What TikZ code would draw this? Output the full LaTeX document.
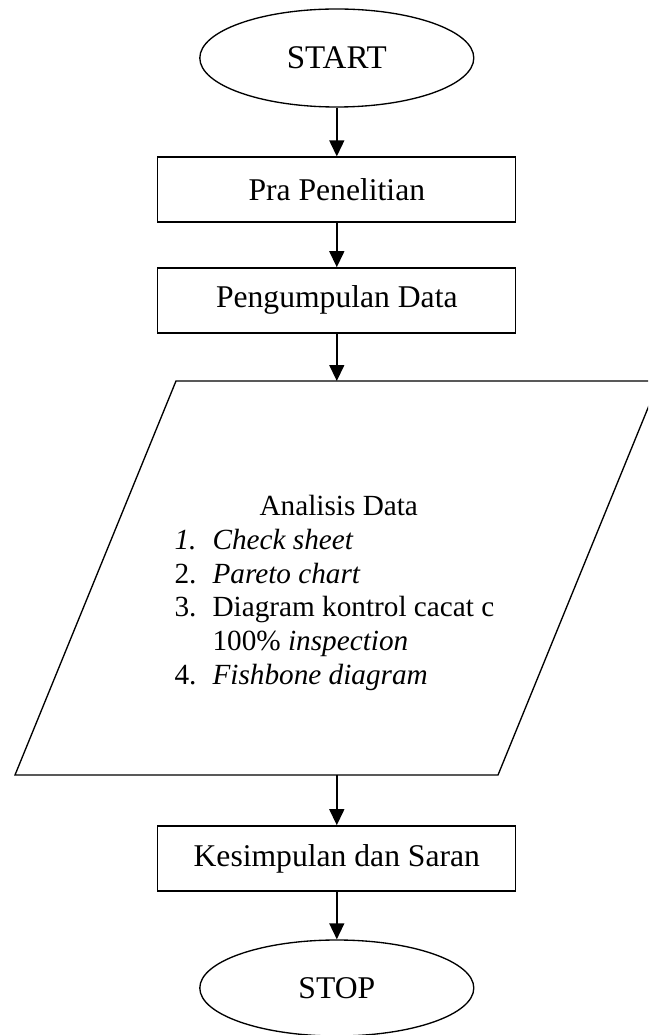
\documentclass[tikz,border=0pt]{standalone}
\usepackage{fontspec}
\setmainfont{Liberation Serif}
\usetikzlibrary{arrows.meta,positioning,shapes.geometric}

\begin{document}
\begin{tikzpicture}[
    terminal/.style={ellipse, draw=black, line width=0.95pt,
                 minimum width=6.85cm, minimum height=2.45cm,
                 font=\fontsize{22.5}{24}\selectfont},
    proses/.style={rectangle, draw=black, line width=0.95pt,
                 minimum width=8.95cm, minimum height=1.625cm,
                 font=\fontsize{22.5}{24}\selectfont},
    arr/.style={-{Triangle[length=0.4cm, width=0.37cm]}, line width=1.4pt},
    daftar/.style={font=\fontsize{20.8}{24}\selectfont, align=left,
                 inner sep=0pt},
  ]
  \clip (0,0) rectangle (16.2,-25.875);

  % Alur utama
  \node[terminal, font=\fontsize{23.5}{24}\selectfont] (start) at (8.42,-1.45) {START};
  \node[proses] (pra) at (8.42,-4.74) {Pra Penelitian};
  \node[proses] (kumpul) at (8.42,-7.51) {Pengumpulan Data};

  \draw[arr] (start) -- (pra);
  \draw[arr] (pra) -- (kumpul);

  % Jajar genjang analisis
  \coordinate (atas) at (8.42,-9.525);
  \coordinate (bawah) at (8.42,-19.375);
  \draw[line width=0.95pt] (4.4,-9.525) -- (16.475,-9.525)
    -- (12.45,-19.375) -- (0.375,-19.375) -- cycle;
  \node[daftar] (analisis) at (8.36,-14.83) {%
    \begin{tabular}{@{}p{0.95cm}@{}l@{}}
      \multicolumn{2}{c}{\hspace{0.22cm}Analisis Data}\\
      \textit{1.} & \textit{Check sheet}\\
      2. & \textit{Pareto chart}\\
      3. & Diagram kontrol cacat c\\
         & 100\% \textit{inspection}\\
      4. & \textit{Fishbone diagram}
    \end{tabular}};

  \draw[arr] (kumpul) -- (atas);

  % Penutup
  \node[proses] (simpulan) at (8.42,-21.46) {Kesimpulan dan Saran};
  \node[terminal, minimum height=2.4cm] (stop) at (8.42,-24.7) {STOP};

  \draw[arr] (bawah) -- (simpulan);
  \draw[arr] (simpulan) -- (stop);
\end{tikzpicture}
\end{document}
